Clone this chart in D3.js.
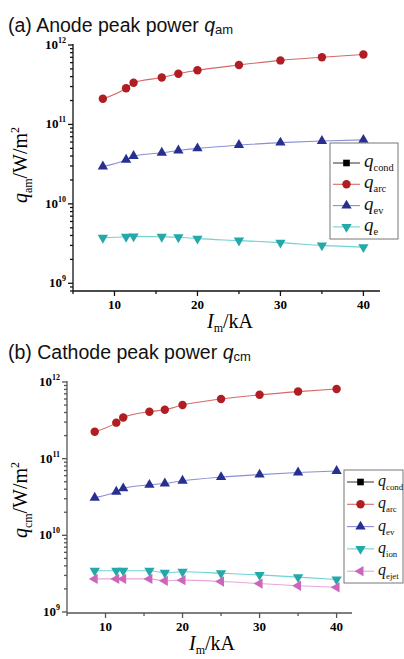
<!DOCTYPE html>
<html>
<head>
<meta charset="utf-8">
<script src="https://d3js.org/d3.v7.min.js"></script>
<style>
  body { margin: 0; background: #fff; }
  svg { display: block; }
</style>
</head>
<body>
<div id="chart"></div>
<script>
// arc current, kA (same for every series)
var current = [8.6, 11.4, 12.3, 15.7, 17.7, 20, 25, 30, 35, 40];

// anode peak power, W/m^2
var anodeArc = [2.1e11, 2.85e11, 3.35e11, 3.9e11, 4.35e11, 4.8e11, 5.6e11, 6.4e11, 7.0e11, 7.6e11];
var anodeEv  = [2.95e10, 3.6e10, 4.0e10, 4.4e10, 4.7e10, 5.0e10, 5.5e10, 5.9e10, 6.2e10, 6.4e10];
var anodeE   = [3.75e9, 3.85e9, 3.9e9, 3.85e9, 3.8e9, 3.65e9, 3.45e9, 3.25e9, 3.0e9, 2.85e9];

// cathode peak power, W/m^2
var cathodeArc  = [2.25e11, 2.95e11, 3.45e11, 4.1e11, 4.35e11, 5.0e11, 6.0e11, 6.8e11, 7.5e11, 8.1e11];
var cathodeEv   = [3.1e10, 3.7e10, 4.1e10, 4.55e10, 4.75e10, 5.15e10, 5.75e10, 6.2e10, 6.6e10, 6.9e10];
var cathodeIon  = [3.45e9, 3.45e9, 3.45e9, 3.45e9, 3.25e9, 3.35e9, 3.2e9, 3.05e9, 2.85e9, 2.65e9];
var cathodeEjet = [2.7e9, 2.7e9, 2.7e9, 2.7e9, 2.55e9, 2.6e9, 2.5e9, 2.35e9, 2.2e9, 2.1e9];

// axis ticks
var xTicks = [10, 20, 30, 40];
var xMinor = [5, 15, 25, 35];
var yExps = [9, 10, 11, 12];

var W = 404, H = 659;
var svg = d3.select("#chart").append("svg").attr("width", W).attr("height", H);

var styles = {
  cond: { marker: "square",   fill: "#000000", line: "#444444" },
  arc:  { marker: "circle",   fill: "#b01e23", line: "#d66a6a" },
  ev:   { marker: "triangle", fill: "#27308f", line: "#8a8fd6" },
  e:    { marker: "tridown",  fill: "#25a8a8", line: "#70d2d2" },
  ejet: { marker: "trileft",  fill: "#cc66bb", line: "#e6a6dc" }
};

function symbolFor(kind) {
  if (kind == "square") return d3.symbol().type(d3.symbolSquare).size(44);
  if (kind == "circle") return d3.symbol().type(d3.symbolCircle).size(56);
  return d3.symbol().type(d3.symbolTriangle).size(46);
}
function rotFor(kind) {
  if (kind == "tridown") return 180;
  if (kind == "trileft") return -90;
  return 0;
}

function drawPanel(cfg) {
  var g = svg.append("g");

  var x = d3.scaleLinear().domain([5, 42]).range(cfg.xRange);
  var y = d3.scaleLog().domain(cfg.yDomain).range(cfg.yRange);

  // panel title
  var t = g.append("text")
      .attr("x", 8).attr("y", cfg.titleY)
      .attr("font-family", "Liberation Sans, Arial, sans-serif")
      .attr("font-size", 19.5).attr("fill", "#111");
  t.append("tspan").text(cfg.title + " ");
  t.append("tspan").attr("font-style", "italic").text("q");
  t.append("tspan").attr("font-size", 13).attr("dy", 2).text(cfg.sub);

  // series lines and markers
  cfg.series.forEach(function(s) {
    var st = styles[s.style];
    var pts = current.map(function(c, i) { return [c, s.values[i]]; });
    g.append("path")
        .datum(pts)
        .attr("fill", "none")
        .attr("stroke", st.line)
        .attr("stroke-width", 1.1)
        .attr("d", d3.line().curve(d3.curveMonotoneX)
            .x(function(d) { return x(d[0]); })
            .y(function(d) { return y(d[1]); }));
    g.selectAll(null).data(pts).enter().append("path")
        .attr("d", symbolFor(st.marker)())
        .attr("fill", st.fill)
        .attr("transform", function(d) {
          return "translate(" + x(d[0]) + "," + y(d[1]) + ") rotate(" + rotFor(st.marker) + ")";
        });
  });

  // axes
  var ax = g.append("g").attr("stroke", cfg.axisColor).attr("stroke-width", 1.3);
  var x0 = cfg.xRange[0], yb = cfg.yRange[0];
  ax.append("line").attr("x1", x0).attr("x2", x0).attr("y1", cfg.yRange[1] - 1).attr("y2", yb);
  ax.append("line").attr("x1", x0).attr("x2", cfg.xRange[1]).attr("y1", yb).attr("y2", yb);

  xTicks.forEach(function(v) {
    ax.append("line").attr("x1", x(v)).attr("x2", x(v)).attr("y1", yb).attr("y2", yb + 5);
    g.append("text").attr("x", x(v)).attr("y", yb + 18)
        .attr("text-anchor", "middle")
        .attr("font-family", "Liberation Serif, Times New Roman, serif")
        .attr("font-weight", "bold").attr("font-size", 13)
        .text(v);
  });
  xMinor.forEach(function(v) {
    ax.append("line").attr("x1", x(v)).attr("x2", x(v)).attr("y1", yb).attr("y2", yb + 3);
  });

  // log ticks
  for (var e = 8; e <= 12; e++) {
    for (var m = 1; m <= 9; m++) {
      var v = m * Math.pow(10, e);
      if (v < cfg.yDomain[0] * 0.999 || v > cfg.yDomain[1] * 1.001) continue;
      var len = (m == 1) ? 5 : 3;
      ax.append("line").attr("x1", x0 - len).attr("x2", x0).attr("y1", y(v)).attr("y2", y(v));
    }
  }
  yExps.forEach(function(e) {
    var lab = g.append("text")
        .attr("x", x0 - 7).attr("y", y(Math.pow(10, e)) + 4)
        .attr("text-anchor", "end")
        .attr("font-family", "Liberation Serif, Times New Roman, serif")
        .attr("font-weight", "bold").attr("font-size", 13);
    lab.append("tspan").text("10");
    lab.append("tspan").attr("font-size", 8).attr("dy", -6).text(e);
  });

  // x title
  var xt = g.append("text")
      .attr("x", cfg.xTitle[0]).attr("y", cfg.xTitle[1])
      .attr("text-anchor", "middle")
      .attr("font-family", "Liberation Serif, Times New Roman, serif")
      .attr("font-size", 20);
  xt.append("tspan").attr("font-style", "italic").text("I");
  xt.append("tspan").attr("font-size", 12).attr("dy", 4).text("m");
  xt.append("tspan").attr("dy", -4).text("/kA");

  // y title
  var yt = g.append("text")
      .attr("transform", "translate(" + cfg.yTitle[0] + "," + cfg.yTitle[1] + ") rotate(-90)")
      .attr("text-anchor", "middle")
      .attr("font-family", "Liberation Serif, Times New Roman, serif")
      .attr("font-size", 20);
  yt.append("tspan").attr("font-style", "italic").text("q");
  yt.append("tspan").attr("font-size", 12).attr("dy", 5).text(cfg.sub);
  yt.append("tspan").attr("dy", -5).text("/W/m");
  yt.append("tspan").attr("font-size", 12).attr("dy", -8).text("2");

  // legend
  var lg = g.append("g").attr("transform", "translate(" + cfg.legend.x + "," + cfg.legend.y + ")");
  lg.append("rect")
      .attr("width", cfg.legend.w).attr("height", cfg.legend.h)
      .attr("fill", "#fff").attr("stroke", "#777").attr("stroke-width", 1);
  cfg.legendItems.forEach(function(it, i) {
    var st = styles[it.style];
    var ly = cfg.legend.top + i * cfg.legend.step;
    lg.append("line").attr("x1", 3).attr("x2", 3 + cfg.legend.lineW)
        .attr("y1", ly).attr("y2", ly)
        .attr("stroke", st.line).attr("stroke-width", 1.1);
    lg.append("path")
        .attr("d", symbolFor(st.marker)())
        .attr("fill", st.fill)
        .attr("transform", "translate(" + (3 + cfg.legend.lineW / 2) + "," + ly + ") rotate(" + rotFor(st.marker) + ")");
    var lt = lg.append("text")
        .attr("x", cfg.legend.lineW + 7).attr("y", ly + 4)
        .attr("font-family", "Liberation Serif, Times New Roman, serif")
        .attr("font-size", cfg.legend.fs).attr("fill", "#111");
    lt.append("tspan").attr("font-style", "italic").text("q");
    lt.append("tspan").attr("font-size", cfg.legend.fs * 0.55).attr("dy", 4).text(it.label);
  });
}

drawPanel({
  title: "(a) Anode peak power", sub: "am", titleY: 32,
  xRange: [73, 380], yDomain: [8e8, 1e12], yRange: [291, 45],
  axisColor: "#111",
  xTitle: [230, 328], yTitle: [27, 165],
  series: [
    { style: "arc", values: anodeArc },
    { style: "ev", values: anodeEv },
    { style: "e", values: anodeE }
  ],
  legend: { x: 330, y: 143, w: 68, h: 96, top: 20, step: 21.3, lineW: 27, fs: 19 },
  legendItems: [
    { style: "cond", label: "cond" },
    { style: "arc", label: "arc" },
    { style: "ev", label: "ev" },
    { style: "e", label: "e" }
  ]
});

drawPanel({
  title: "(b) Cathode peak power", sub: "cm", titleY: 359,
  xRange: [67, 352], yDomain: [9.7e8, 1e12], yRange: [613, 382],
  axisColor: "#555",
  xTitle: [212, 650], yTitle: [27, 500],
  series: [
    { style: "arc", values: cathodeArc },
    { style: "ev", values: cathodeEv },
    { style: "e", values: cathodeIon },
    { style: "ejet", values: cathodeEjet }
  ],
  legend: { x: 344, y: 470, w: 59, h: 113, top: 12, step: 22.3, lineW: 27, fs: 16 },
  legendItems: [
    { style: "cond", label: "cond" },
    { style: "arc", label: "arc" },
    { style: "ev", label: "ev" },
    { style: "e", label: "ion" },
    { style: "ejet", label: "ejet" }
  ]
});
</script>
</body>
</html>
